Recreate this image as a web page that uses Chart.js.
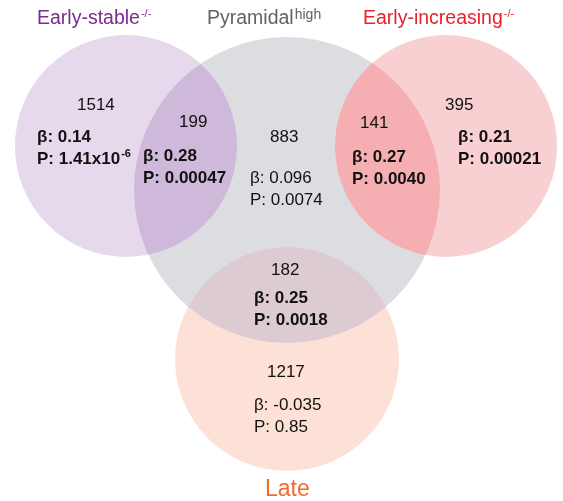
<!DOCTYPE html>
<html>
<head>
<meta charset="utf-8">
<script src="https://cdn.jsdelivr.net/npm/chart.js@4"></script>
<style>
html,body{margin:0;padding:0;background:#ffffff;}
canvas{display:block;}
</style>
</head>
<body>
<canvas id="c" width="563" height="501"></canvas>
<script>
// ---------- DATA ----------
const setNames = ['Early-stable', 'Pyramidal', 'Early-increasing', 'Late'];
const setSuper = ['-/-', 'high', '-/-', ''];
const regionNames = ['Early-stable only', 'Early-stable ∩ Pyramidal', 'Pyramidal only',
  'Pyramidal ∩ Early-increasing', 'Early-increasing only', 'Pyramidal ∩ Late', 'Late only'];
const counts = [1514, 199, 883, 141, 395, 182, 1217];
const betas = [0.14, 0.28, 0.096, 0.27, 0.21, 0.25, -0.035];
const pValues = ['1.41x10', '0.00047', '0.0074', '0.0040', '0.00021', '0.0018', '0.85'];
const pExponents = ['-6', '', '', '', '', '', ''];
const significant = [true, true, false, true, true, true, false];

// ---------- LAYOUT (pixel space, kept apart from data) ----------
const W = 563, H = 501;
const circleCenters = [[126, 146], [287, 190], [446, 146], [287, 359]];
const circleRadii = [111, 153, 111, 112];
const drawOrder = [1, 0, 2, 3];
const fillColors = ['#e6d9eb', '#dcdde0', '#f9d0d2', '#fde1d6'];
const overlapPairs = [[0, 1, '#cfb9da'], [2, 1, '#f5afb2'], [3, 1, '#dccbd2']];
const titleColors = ['#7b2b8e', '#606267', '#e8212b', '#f26a2c'];
const titlePos = [[37, 24, 19.5], [207, 24, 19.5], [363, 24, 19.5], [265, 496, 23]];
const countPos = [[77, 110], [179, 127], [270, 142], [360, 128], [445, 110], [271, 275], [267, 377]];
const statPos = [[37, 142], [143, 161], [250, 183], [352, 162], [458, 142], [254, 303], [254, 410]];
const lineGap = 21.5;
const FONT = '"Liberation Sans", Arial, sans-serif';

const bubbleData = drawOrder.map(i => ({ x: circleCenters[i][0], y: circleCenters[i][1], r: circleRadii[i], set: i }));

const vennPlugin = {
  id: 'venn',
  afterDatasetsDraw(chart) {
    const ctx = chart.ctx;
    const meta = chart.getDatasetMeta(0);
    const el = {};
    meta.data.forEach((p, k) => { el[bubbleData[k].set] = p; });
    overlapPairs.forEach(([a, b, col]) => {
      const A = el[a], B = el[b];
      ctx.save();
      ctx.beginPath();
      ctx.arc(A.x, A.y, A.options.radius, 0, Math.PI * 2);
      ctx.clip();
      ctx.beginPath();
      ctx.arc(B.x, B.y, B.options.radius, 0, Math.PI * 2);
      ctx.fillStyle = col;
      ctx.fill();
      ctx.restore();
    });
  },
  afterDraw(chart) {
    const ctx = chart.ctx;
    const sx = chart.scales.x, sy = chart.scales.y;
    const X = v => sx.getPixelForValue(v), Y = v => sy.getPixelForValue(v);
    ctx.save();
    ctx.textAlign = 'left';
    ctx.textBaseline = 'alphabetic';
    // set titles
    setNames.forEach((name, i) => {
      const [tx, ty, fs] = titlePos[i];
      ctx.fillStyle = titleColors[i];
      ctx.font = fs + 'px ' + FONT;
      ctx.fillText(name, X(tx), Y(ty));
      const w = ctx.measureText(name).width;
      if (setSuper[i]) {
        const isHigh = setSuper[i] === 'high';
        ctx.font = (isHigh ? 14 : 11) + 'px ' + FONT;
        ctx.fillText(setSuper[i], X(tx) + w + 1, Y(ty) - (isHigh ? 5 : 7));
      }
    });
    // region labels
    ctx.fillStyle = '#111111';
    counts.forEach((c, i) => {
      ctx.font = '17px ' + FONT;
      ctx.fillText(String(c), X(countPos[i][0]), Y(countPos[i][1]));
      const wt = significant[i] ? 'bold ' : '';
      ctx.font = wt + '17px ' + FONT;
      const bx = X(statPos[i][0]), by = Y(statPos[i][1]);
      ctx.fillText('β: ' + String(betas[i]), bx, by);
      const pTxt = 'P: ' + pValues[i];
      ctx.fillText(pTxt, bx, by + lineGap);
      if (pExponents[i]) {
        const w = ctx.measureText(pTxt).width;
        ctx.font = wt + '11px ' + FONT;
        ctx.fillText(pExponents[i], bx + w + 1, by + lineGap - 7);
      }
    });
    ctx.restore();
  }
};

new Chart(document.getElementById('c'), {
  type: 'bubble',
  data: {
    datasets: [{
      data: bubbleData,
      backgroundColor: bubbleData.map(d => fillColors[d.set]),
      borderWidth: 0,
      hoverBorderWidth: 0,
      clip: false
    }]
  },
  options: {
    responsive: false,
    animation: false,
    devicePixelRatio: 1,
    events: [],
    layout: { padding: 0, autoPadding: false },
    plugins: { legend: { display: false }, tooltip: { enabled: false } },
    scales: {
      x: { type: 'linear', min: 0, max: W, display: false },
      y: { type: 'linear', min: 0, max: H, reverse: true, display: false }
    }
  },
  plugins: [vennPlugin]
});
</script>
</body>
</html>
